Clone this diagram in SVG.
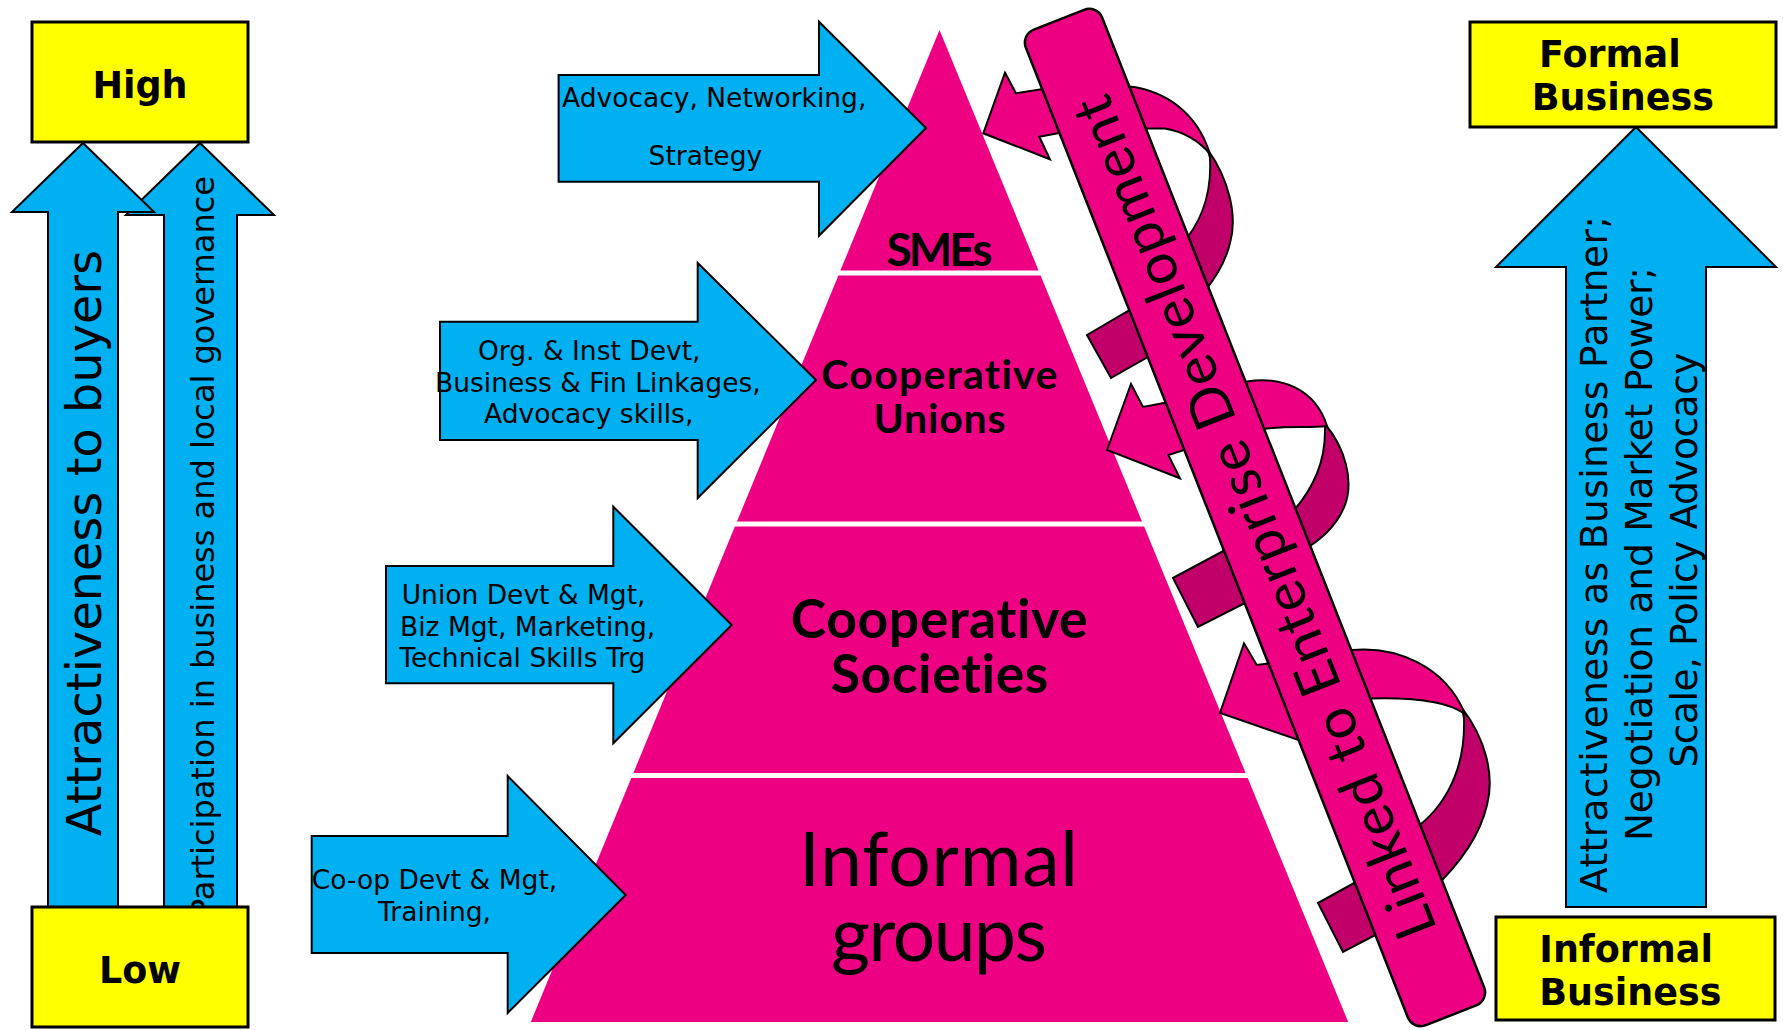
<svg xmlns="http://www.w3.org/2000/svg" width="1783" height="1030" viewBox="0 0 1783 1030">
  <style>
    .blue { fill: #00B0F0; stroke: #000; stroke-width: 2; stroke-linejoin: miter; }
    .yellow { fill: #FFFF00; stroke: #000; stroke-width: 3; }
    .band { fill: #EE0082; }
    .front { fill: #EE0082; stroke: #000; stroke-width: 2; stroke-linejoin: miter; }
    .back { fill: #C2006A; stroke: #000; stroke-width: 2; stroke-linejoin: miter; }
    .ribbon { fill: #EE0082; stroke: #000; stroke-width: 2.5; }
    .lbl { font-family: "DejaVu Sans", Verdana, sans-serif; font-size: 26.5px; fill: #000; }
    .vbig { font-family: "DejaVu Sans", Verdana, sans-serif; font-size: 47.5px; fill: #000; text-anchor: middle; }
    .vmid { font-family: "DejaVu Sans", Verdana, sans-serif; font-size: 32px; fill: #000; text-anchor: middle; }
    .vright { font-family: "DejaVu Sans", Verdana, sans-serif; font-size: 37.5px; fill: #000; text-anchor: middle; }
    .boxtxt { font-family: "DejaVu Sans", Verdana, sans-serif; font-weight: bold; font-size: 36.5px; fill: #000; }
    .pyr { font-family: Lato, "Open Sans", sans-serif; font-weight: bold; fill: #000; text-anchor: middle; font-variant-ligatures: none; font-feature-settings: "liga" 0; }
    .pyr-reg { font-family: Lato, "Open Sans", sans-serif; fill: #000; text-anchor: middle; font-variant-ligatures: none; font-feature-settings: "liga" 0; }
  </style>

  <!-- Pyramid levels -->
  <g id="level-smes">
    <polygon class="band" points="939.5,30 1038.6,270.5 840.4,270.5"/>
    <text class="pyr" x="939.5" y="266" font-size="46" textLength="106">SMEs</text>
  </g>
  <g id="level-unions">
    <polygon class="band" points="838.4,275.5 1040.6,275.5 1142,521.5 737,521.5"/>
    <text class="pyr" x="939.3" y="389.3" font-size="41" textLength="236">Cooperative</text>
    <text class="pyr" x="939.5" y="432.7" font-size="41" textLength="132">Unions</text>
  </g>
  <g id="level-societies">
    <polygon class="band" points="734.9,526.5 1144.1,526.5 1245.6,773 633.4,773"/>
    <text class="pyr" x="939.2" y="638.3" font-size="53.5" textLength="297">Cooperative</text>
    <text class="pyr" x="939.5" y="693.3" font-size="53.5" textLength="217.6">Societies</text>
  </g>
  <g id="level-informal">
    <polygon class="band" points="631.3,778 1247.7,778 1348.2,1022 530.8,1022"/>
    <text class="pyr-reg" x="938.5" y="886" font-size="75" textLength="279">Informal</text>
    <text class="pyr-reg" x="939" y="961" font-size="75" textLength="216">groups</text>
  </g>

  <!-- Left scale: two upward arrows between High and Low -->
  <g id="arrow-participation">
    <polygon class="blue" points="200,143 274,215 237,215 237,907 164,907 164,215 126,215"/>
    <text class="vmid" transform="translate(213.5,547) rotate(-90)" textLength="742">Participation in business and local governance</text>
  </g>
  <g id="arrow-attractiveness">
    <polygon class="blue" points="83,143 154,212 118,212 118,907 48,907 48,212 12,212"/>
    <text class="vbig" transform="translate(101,543) rotate(-90)" textLength="586">Attractiveness to buyers</text>
  </g>
  <g id="box-high">
    <rect class="yellow" x="32" y="22" width="216" height="120"/>
    <text class="boxtxt" x="140" y="97.7" text-anchor="middle">High</text>
  </g>
  <g id="box-low">
    <rect class="yellow" x="32" y="907" width="216" height="120"/>
    <text class="boxtxt" x="140" y="982.7" text-anchor="middle">Low</text>
  </g>

  <!-- Support inputs pointing into each level -->
  <g id="input-smes">
    <polygon class="blue" points="558.6,75 819,75 819,21.7 926,128 819,235.7 819,181.7 558.6,181.7"/>
    <text class="lbl" x="562" y="106.7">Advocacy, Networking,</text>
    <text class="lbl" x="648.6" y="165">Strategy</text>
  </g>
  <g id="input-unions">
    <polygon class="blue" points="440,321.7 697.7,321.7 697.7,263 816,380 697.7,498 697.7,440 440,440"/>
    <text class="lbl" x="478" y="360">Org. &amp; Inst Devt,</text>
    <text class="lbl" x="435" y="391.7">Business &amp; Fin Linkages,</text>
    <text class="lbl" x="484" y="423">Advocacy skills,</text>
  </g>
  <g id="input-societies">
    <polygon class="blue" points="386,566 613.3,566 613.3,506.7 731.7,625 613.3,743.3 613.3,683.3 386,683.3"/>
    <text class="lbl" x="401.7" y="603.5">Union Devt &amp; Mgt,</text>
    <text class="lbl" x="400" y="636">Biz Mgt, Marketing,</text>
    <text class="lbl" x="399.3" y="667">Technical Skills Trg</text>
  </g>
  <g id="input-informal">
    <polygon class="blue" points="311.7,836 507.7,836 507.7,776 625.7,895 507.7,1013 507.7,953 311.7,953"/>
    <text class="lbl" x="311.7" y="889">Co-op Devt &amp; Mgt,</text>
    <text class="lbl" x="378" y="921">Training,</text>
  </g>

  <!-- Curled arrows looping round the band and back to the pyramid -->
  <g id="connectors">
    <g id="curl-smes">
      <polygon class="back" points="1087,335 1140,304 1160,350 1111,378"/>
      <path class="back" d="M1208,150 C1228,178 1238,215 1230,243 C1226,260 1218,275 1204,292 L1180,246 C1200,225 1212,195 1210,158 Z"/>
      <path class="front" d="M1118,84 L1130,86.5 C1165,91 1197,112 1210,154 C1200,142 1185,132 1165,128.5 L1138,128.5 Z"/>
      <polygon class="front" points="983.3,133.3 1005,72.7 1016,93.3 1055,87 1075,130 1039.3,136.7 1050,159.3"/>
    </g>
    <g id="curl-unions">
      <polygon class="back" points="1173,578 1240,542 1255,598 1198,627"/>
      <path class="back" d="M1325,424 C1345,448 1354,480 1345,505 C1338,523 1322,540 1300,552 L1285,520 C1305,500 1325,470 1325,432 Z"/>
      <path class="front" d="M1238,383 L1247,381.5 C1280,376 1315,388 1327,426 C1310,428 1290,426 1267,428.5 L1256,429 Z"/>
      <polygon class="front" points="1107,450 1131,384 1143,407 1180,400 1200,445 1168.3,455 1180,478.3"/>
    </g>
    <g id="curl-societies">
      <polygon class="back" points="1318,903 1365,877 1385,930 1343,952"/>
      <path class="back" d="M1462,708 C1485,738 1495,775 1487,805 C1480,835 1462,862 1432,890 L1405,835 C1440,815 1466,775 1464,718 Z"/>
      <path class="front" d="M1342,651 L1352,650 C1395,646 1445,665 1465,714 C1450,703 1420,697 1370,698.5 L1360,699 Z"/>
      <polygon class="front" points="1220,713 1244,643.3 1256.7,665 1295,660 1320,735 1316,746"/>
    </g>
  </g>

  <!-- Slanted band -->
  <g id="band-enterprise">
    <rect class="ribbon" transform="translate(1255,517.5) rotate(68.5)" x="-535" y="-41" width="1070" height="82" rx="14"/>
    <text class="pyr-reg" transform="translate(1255,517.5) rotate(-111.5)" x="0" y="19" font-size="57" textLength="900">Linked to Enterprise Development</text>
  </g>

  <!-- Right scale -->
  <g id="arrow-business">
    <polygon class="blue" points="1636,127 1776,267 1706,267 1706,907 1566,907 1566,267 1496,267"/>
    <text class="vright" transform="translate(1607,554.5) rotate(-90)" textLength="677">Attractiveness as Business Partner;</text>
    <text class="vright" transform="translate(1652,554) rotate(-90)" textLength="574">Negotiation and Market Power;</text>
    <text class="vright" transform="translate(1697,560) rotate(-90)" textLength="415">Scale, Policy Advocacy</text>
  </g>
  <g id="box-formal">
    <rect class="yellow" x="1470" y="22" width="306" height="105"/>
    <text class="boxtxt" x="1539" y="66.7">Formal</text>
    <text class="boxtxt" x="1531.7" y="110">Business</text>
  </g>
  <g id="box-informal">
    <rect class="yellow" x="1496" y="917" width="279" height="103"/>
    <text class="boxtxt" x="1539.3" y="961.7">Informal</text>
    <text class="boxtxt" x="1539.3" y="1005">Business</text>
  </g>
</svg>
